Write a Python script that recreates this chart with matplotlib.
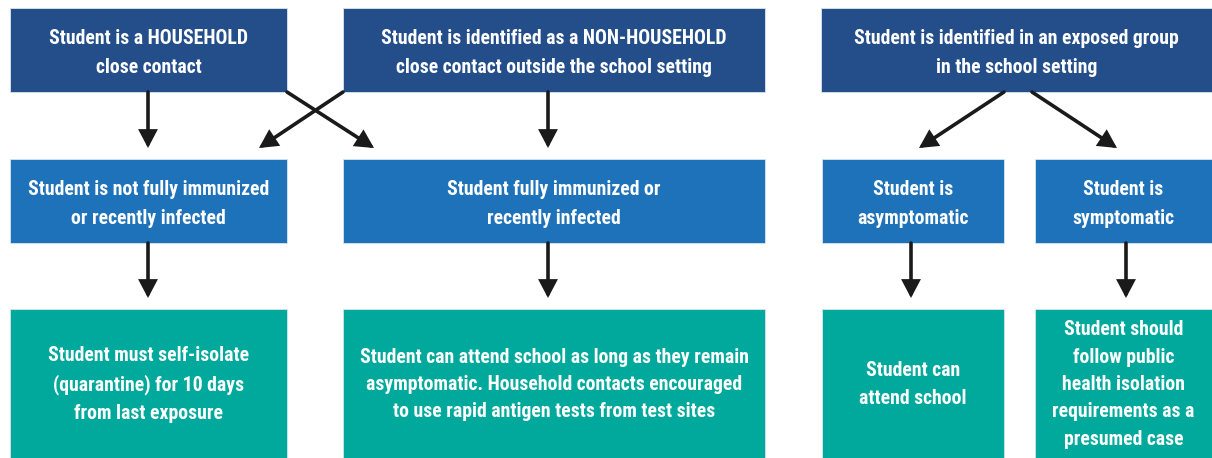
import matplotlib
matplotlib.use("Agg")
import matplotlib.pyplot as plt
from matplotlib.patches import Rectangle, FancyArrowPatch
from matplotlib import font_manager

# ---- content ----
top_labels = [
    "Student is a HOUSEHOLD\nclose contact",
    "Student is identified as a NON-HOUSEHOLD\nclose contact outside the school setting",
    "Student is identified in an exposed group\nin the school setting",
]
mid_labels = [
    "Student is not fully immunized\nor recently infected",
    "Student fully immunized or\nrecently infected",
    "Student is\nasymptomatic",
    "Student is\nsymptomatic",
]
bottom_labels = [
    "Student must self-isolate\n(quarantine) for 10 days\nfrom last exposure",
    "Student can attend school as long as they remain\nasymptomatic. Household contacts encouraged\nto use rapid antigen tests from test sites",
    "Student can\nattend school",
    "Student should\nfollow public\nhealth isolation\nrequirements as a\npresumed case",
]

# ---- style ----
DARK = "#244e8a"
MID = "#1e72ba"
TEAL = "#00a99c"

names = {f.name for f in font_manager.fontManager.ttflist}
cond = None
for cand in ["Liberation Sans Narrow", "DejaVu Sans Condensed", "Roboto Condensed", "Open Sans Condensed"]:
    if cand in names:
        cond = cand
        break
font_kw = dict(family=[cond] if cond else ["DejaVu Sans"], weight="bold")
if cond is None:
    font_kw["stretch"] = "condensed"

fig = plt.figure(figsize=(12.12, 4.58), dpi=100)
ax = fig.add_axes([0, 0, 1, 1])
ax.set_xlim(0, 1212)
ax.set_ylim(458, 0)
ax.axis("off")

# layout (pixels)
cols_top = [(10, 287), (343, 765), (821, 1212)]
cols_mid = [(10, 287), (343, 765), (822, 1004), (1035, 1212)]
rows = [(8, 92), (159, 243), (309, 458)]


def box(x0, x1, y0, y1, color, text, fs, ls, dy):
    ax.add_patch(Rectangle((x0, y0), x1 - x0, y1 - y0, facecolor=color,
                           edgecolor="#d8e6f0", linewidth=0.6))
    ax.text((x0 + x1) / 2, (y0 + y1) / 2 + dy, text, ha="center", va="center",
            color="white", fontsize=fs, linespacing=ls, **font_kw)


FS = 14.2
for (x0, x1), t in zip(cols_top, top_labels):
    box(x0, x1, rows[0][0], rows[0][1], DARK, t, FS, 1.62, 3)
for (x0, x1), t in zip(cols_mid, mid_labels):
    box(x0, x1, rows[1][0], rows[1][1], MID, t, FS, 1.62, 3)
for (x0, x1), t in zip(cols_mid, bottom_labels):
    box(x0, x1, rows[2][0], rows[2][1], TEAL, t, FS, 1.56, 1)


def arrow(p0, p1):
    ax.add_patch(FancyArrowPatch(p0, p1, arrowstyle="-|>,head_length=0.95,head_width=0.5",
                                 mutation_scale=10, color="#1a1a1a", linewidth=2.6,
                                 shrinkA=0, shrinkB=0, joinstyle="miter"))


# top -> middle
arrow((148, 92), (148, 148))
arrow((287, 92), (374, 148))
arrow((343, 92), (259, 148))
arrow((548, 92), (548, 148))
arrow((1004, 92), (919, 148))
arrow((1032, 92), (1117, 148))
# middle -> bottom
for x in [148, 548, 911, 1126]:
    arrow((x, 243), (x, 298))

fig.savefig("out.png", dpi=100)
